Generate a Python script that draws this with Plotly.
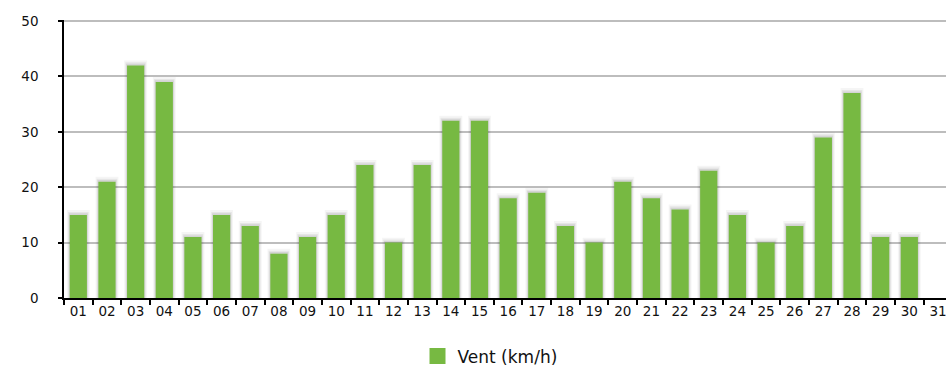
import plotly.graph_objects as go

days = [f"{i:02d}" for i in range(1, 32)]
wind = [15, 21, 42, 39, 11, 15, 13, 8, 11, 15, 24, 10, 24, 32, 32, 18, 19, 13, 10, 21,
        18, 16, 23, 15, 10, 13, 29, 37, 11, 11, None]
y_ticks = [0, 10, 20, 30, 40, 50]
series_name = "Vent (km/h)"
bar_color = "#77b942"

fig = go.Figure()
# soft shadow layers behind the bars
for w, pad, alpha in [(0.80, 0.9, 0.04), (0.72, 0.55, 0.06), (0.66, 0.3, 0.08)]:
    fig.add_trace(go.Bar(
        x=days, y=[(v + pad) if v is not None else None for v in wind],
        marker=dict(color=f"rgba(0,0,0,{alpha})", line=dict(width=0)),
        width=w, showlegend=False, hoverinfo="skip",
    ))
fig.add_trace(go.Bar(
    x=days, y=wind, name=series_name,
    marker=dict(color=bar_color, line=dict(width=0)),
    width=0.6, showlegend=False,
))
# legend entry with a larger square swatch
fig.add_trace(go.Scatter(
    x=[None], y=[None], mode="markers", name=series_name,
    marker=dict(symbol="square", size=16, color=bar_color),
))

fig.update_layout(
    width=946, height=366,
    margin=dict(l=64, r=0, t=20, b=68, autoexpand=False),
    plot_bgcolor="white", paper_bgcolor="white",
    font=dict(family="DejaVu Sans", size=12, color="#111"),
    showlegend=True, barmode="overlay",
    legend=dict(orientation="h", x=0.483, xanchor="center", y=-0.21, yanchor="middle",
                font=dict(size=17, color="#111"), itemwidth=30),
)
fig.update_xaxes(
    type="category", range=[-0.5, 30.28], automargin=False,
    showline=True, linecolor="black", linewidth=1.5,
    ticks="outside", tickson="boundaries", ticklen=5, tickcolor="black", tickwidth=1.5,
    showgrid=False, tickfont=dict(size=13.5),
)
fig.update_yaxes(
    range=[0, 50.2], tickvals=y_ticks, automargin=False,
    showline=True, linecolor="black", linewidth=1.5,
    ticks="outside", ticklen=4, tickcolor="black", tickwidth=1.5,
    showgrid=True, gridcolor="#bdbdbd", gridwidth=1.5,
    zeroline=False, tickfont=dict(size=13.5), ticklabelstandoff=17,
)

fig.write_html("out.html", config={"displayModeBar": False},
               post_script="document.body.style.margin='0';document.body.style.overflow='hidden';")
